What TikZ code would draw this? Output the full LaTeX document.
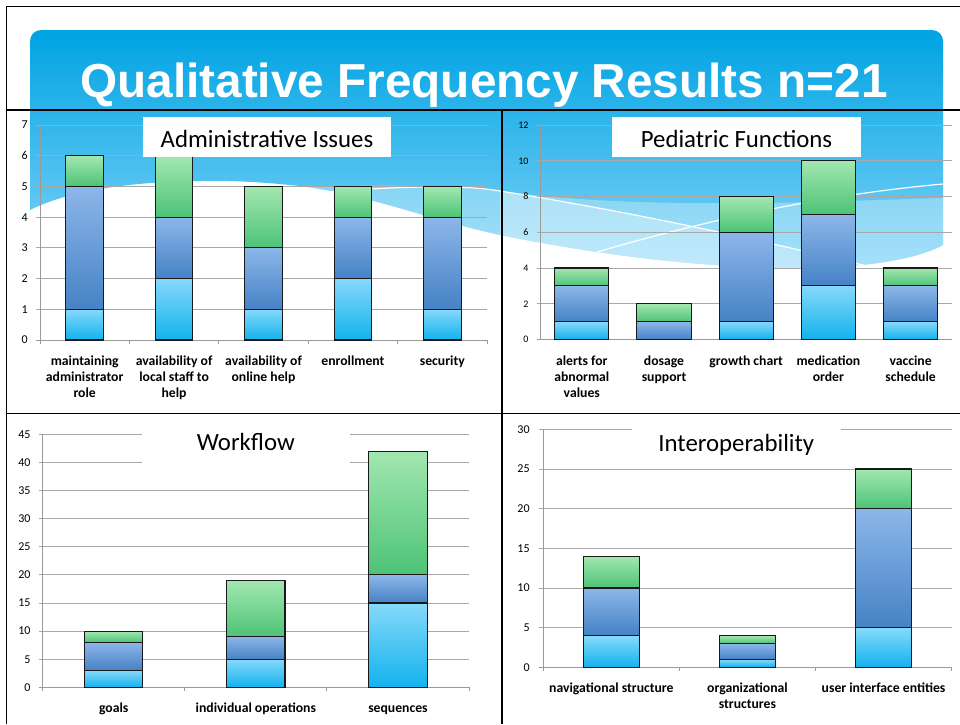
\documentclass[tikz,border=0pt]{standalone}
\usepackage{fontspec}
\setmainfont{Carlito}
\newfontfamily\titlefont{Liberation Sans}
\usetikzlibrary{calc}
\definecolor{lbT}{HTML}{86D9FA}
\definecolor{lbB}{HTML}{12B2EE}
\definecolor{mbT}{HTML}{8DB6E9}
\definecolor{mbB}{HTML}{4582C5}
\definecolor{gT}{HTML}{A2E7B0}
\definecolor{gB}{HTML}{4DC376}
\definecolor{gridc}{HTML}{A8A8A8}
\definecolor{axc}{HTML}{9A9A9A}
\definecolor{hdrT}{HTML}{00A3E3}
\definecolor{hdrB}{HTML}{80D4F7}
\tikzset{
  gridln/.style={draw=gridc, line width=0.9pt},
  axln/.style={draw=axc, line width=0.9pt},
  segbase/.style={draw=black!90, line width=1.1pt},
  seglb/.style={segbase, top color=lbT, bottom color=lbB},
  segmb/.style={segbase, top color=mbT, bottom color=mbB},
  seggr/.style={segbase, top color=gT, bottom color=gB},
  ylab/.style={anchor=east, font=\fontsize{12}{12}\selectfont, inner sep=0pt},
  ylabs/.style={anchor=east, font=\fontsize{10}{10}\selectfont, inner sep=0pt},
  catlab/.style={anchor=north, align=center, font=\fontsize{13.7}{16}\selectfont\bfseries, inner sep=0pt},
  ctitle/.style={anchor=base, font=\fontsize{24.8}{26}\selectfont, inner sep=0pt},
  framel/.style={draw=black, line width=1.5pt},
}
\begin{document}
\begin{tikzpicture}[x=1pt,y=-1pt]
\useasboundingbox (0,0) rectangle (960,724);
\fill[white] (0,0) rectangle (960,724);
% ---------- slide background ----------
\shade[top color=hdrT, bottom color=hdrB]
  (30,210) -- (30,41) arc[start angle=180, end angle=270, radius=11] -- (932,30)
  arc[start angle=270, end angle=360, radius=11] -- (943,245)
  .. controls (920,258) and (870,268) .. (800,268)
  .. controls (700,268) and (600,255) .. (500,235)
  .. controls (430,220) and (370,195) .. (300,186)
  .. controls (280,184) and (260,182) .. (230,181)
  .. controls (160,180) and (80,185) .. (30,210) -- cycle;
\fill[white, opacity=0.3]
  (300,187) .. controls (400,184) and (450,186) .. (500,191)
  .. controls (650,212) and (850,200) .. (943,198) -- (943,245)
  .. controls (920,258) and (870,268) .. (800,268)
  .. controls (700,268) and (600,255) .. (500,235)
  .. controls (430,220) and (370,195) .. (300,186) -- cycle;
\fill[white, opacity=0.3]
  (500,191) .. controls (650,215) and (780,245) .. (867,266) -- (800,268)
  .. controls (700,268) and (600,255) .. (500,235) -- cycle;
\draw[white, line width=1.2pt] (300,194) .. controls (420,184) and (470,186) .. (500,191)
  .. controls (650,215) and (780,245) .. (867,266);
\draw[white, line width=1.2pt] (597,252) .. controls (700,222) and (820,195) .. (943,184);
% title
\node[font=\titlefont\bfseries\fontsize{47.7}{50}\selectfont, text=white, anchor=base, inner sep=0pt] (title) at (484,97) {Qualitative Frequency Results n=21};

% ---------- Administrative Issues ----------
\begin{scope}[shift={(40,340)}, x=89.4pt, y=30.7pt]
  \foreach \v in {1,...,7} \draw[gridln] ([xshift=-4pt]0,\v) -- (5,\v);
  \draw[axln] (0,0) -- (0,7);
  \draw[axln] ([xshift=-4pt]0,0) -- (5,0);
  \foreach \i in {0,...,5} \draw[axln] (\i,0) -- ([yshift=-4pt]\i,0);
  \foreach \v in {0,...,7} \node[ylab] (ay\v) at ([xshift=-12pt]0,\v) {\v};
  \foreach \c/\a/\b/\t in {0.5/1/5/6, 1.5/2/4/6, 2.5/1/3/5, 3.5/2/4/5, 4.5/1/4/5} {
    \draw[seglb] (\c-0.21,0) rectangle (\c+0.21,\a);
    \draw[segmb] (\c-0.21,\a) rectangle (\c+0.21,\b);
    \draw[seggr] (\c-0.21,\b) rectangle (\c+0.21,\t);
  }
  \node[catlab] (ac1) at ([yshift=-13.8pt]0.5,0) {\strut maintaining\\administrator\\role};
  \node[catlab] (ac2) at ([yshift=-13.8pt]1.5,0) {\strut availability of\\local staff to\\help};
  \node[catlab] (ac3) at ([yshift=-13.8pt]2.5,0) {\strut availability of\\online help};
  \node[catlab] (ac4) at ([yshift=-13.8pt]3.5,0) {\strut enrollment};
  \node[catlab] (ac5) at ([yshift=-13.8pt]4.5,0) {\strut security};
\end{scope}
\fill[white] (143.3,117.3) rectangle (390.7,156.7);
\node[ctitle] (atitle) at (267,147.3) {Administrative Issues};

% ---------- Pediatric Functions ----------
\begin{scope}[shift={(540.7,339.5)}, x=82.2pt, y=17.87pt]
  \foreach \v in {2,4,...,12} \draw[gridln] ([xshift=-4pt]0,\v) -- (5,\v);
  \draw[axln] (0,0) -- (0,12);
  \draw[axln] ([xshift=-4pt]0,0) -- (5,0);
  \foreach \v in {0,2,...,12} \node[ylabs] (py\v) at ([xshift=-12pt]0,\v) {\v};
  \foreach \c/\a/\b/\t in {0.5/1/3/4, 1.5/0/1/2, 2.5/1/6/8, 3.5/3/7/10, 4.5/1/3/4} {
    \draw[seglb] (\c-0.33,0) rectangle (\c+0.33,\a);
    \draw[segmb] (\c-0.33,\a) rectangle (\c+0.33,\b);
    \draw[seggr] (\c-0.33,\b) rectangle (\c+0.33,\t);
  }
  \node[catlab] (pc1) at ([yshift=-14.3pt]0.5,0) {\strut alerts for\\abnormal\\values};
  \node[catlab] (pc2) at ([yshift=-14.3pt]1.5,0) {\strut dosage\\support};
  \node[catlab] (pc3) at ([yshift=-14.3pt]2.5,0) {\strut growth chart};
  \node[catlab] (pc4) at ([yshift=-14.3pt]3.5,0) {\strut medication\\order};
  \node[catlab] (pc5) at ([yshift=-14.3pt]4.5,0) {\strut vaccine\\schedule};
\end{scope}
\fill[white] (612,117.3) rectangle (861,156.7);
\node[ctitle] (ptitle) at (736.5,147.3) {Pediatric Functions};

% ---------- Workflow ----------
\begin{scope}[shift={(42.7,687.3)}, x=142.1pt, y=5.622pt]
  \foreach \v in {5,10,...,45} \draw[gridln] ([xshift=-4pt]0,\v) -- (3,\v);
  \draw[axln] (0,0) -- (0,45);
  \draw[axln] ([xshift=-4pt]0,0) -- (3,0);
  \foreach \i in {0,...,3} \draw[axln] (\i,0) -- ([yshift=-4pt]\i,0);
  \foreach \v in {0,5,...,45} \node[ylab] (wy\v) at ([xshift=-12pt]0,\v) {\v};
\end{scope}
\fill[white] (141.7,428) rectangle (350,465);
\node[ctitle] (wtitle) at (245.8,450.7) {Workflow};
\begin{scope}[shift={(42.7,687.3)}, x=142.1pt, y=5.622pt]
  \foreach \c/\a/\b/\t in {0.5/3/8/10, 1.5/5/9/19, 2.5/15/20/42} {
    \draw[seglb] (\c-0.205,0) rectangle (\c+0.205,\a);
    \draw[segmb] (\c-0.205,\a) rectangle (\c+0.205,\b);
    \draw[seggr] (\c-0.205,\b) rectangle (\c+0.205,\t);
  }
  \node[catlab] (wc1) at ([yshift=-13.8pt]0.5,0) {\strut goals};
  \node[catlab] (wc2) at ([yshift=-13.8pt]1.5,0) {\strut individual operations};
  \node[catlab] (wc3) at ([yshift=-13.8pt]2.5,0) {\strut sequences};
\end{scope}

% ---------- Interoperability ----------
\begin{scope}[shift={(543.3,667.3)}, x=136.1pt, y=7.933pt]
  \foreach \v in {5,10,...,30} \draw[gridln] ([xshift=-4pt]0,\v) -- (3,\v);
  \draw[axln] (0,0) -- (0,30);
  \draw[axln] ([xshift=-4pt]0,0) -- (3,0);
  \foreach \i in {0,...,3} \draw[axln] (\i,0) -- ([yshift=-4pt]\i,0);
  \foreach \v in {0,5,...,30} \node[ylab] (iy\v) at ([xshift=-13.5pt]0,\v) {\v};
\end{scope}
\fill[white] (631.7,420) rectangle (840.7,462);
\node[ctitle] (ititle) at (736.3,451) {Interoperability};
\begin{scope}[shift={(543.3,667.3)}, x=136.1pt, y=7.933pt]
  \foreach \c/\a/\b/\t in {0.5/4/10/14, 1.5/1/3/4, 2.5/5/20/25} {
    \draw[seglb] (\c-0.207,0) rectangle (\c+0.207,\a);
    \draw[segmb] (\c-0.207,\a) rectangle (\c+0.207,\b);
    \draw[seggr] (\c-0.207,\b) rectangle (\c+0.207,\t);
  }
  \node[catlab] (ic1) at ([yshift=-13.8pt]0.5,0) {\strut navigational structure};
  \node[catlab] (ic2) at ([yshift=-13.8pt]1.5,0) {\strut organizational\\structures};
  \node[catlab] (ic3) at ([yshift=-13.8pt]2.5,0) {\strut user interface entities};
\end{scope}

% ---------- frame lines ----------
\draw[black, line width=1.8pt] (6.5,724) -- (6.5,6.5) -- (960,6.5);
\draw[black, line width=1.2pt] (6.5,110) -- (960,110);
\draw[framel] (502,110) -- (502,724);
\draw[framel] (6.5,413.5) -- (960,413.5);
\end{tikzpicture}
\end{document}
